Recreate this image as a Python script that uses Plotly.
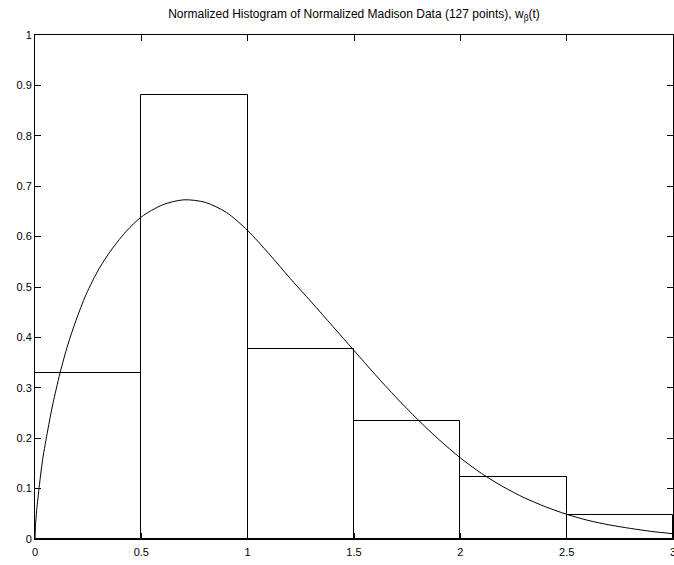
import plotly.graph_objects as go

# Histogram bins (edges) and normalized heights
bin_edges = [0, 0.5, 1.0, 1.5, 2.0, 2.5, 3.0]
bin_heights = [0.330, 0.880, 0.377, 0.235, 0.124, 0.047]

# Fitted density curve w_beta(t)
curve_t = [0, 0.002, 0.008, 0.021, 0.036, 0.06, 0.083, 0.1175, 0.154, 0.193, 0.24,
           0.302, 0.365, 0.43, 0.5, 0.6, 0.7, 0.8, 0.9, 1.0, 1.1, 1.2, 1.3, 1.4,
           1.5, 1.6, 1.7, 1.8, 1.9, 2.0, 2.1, 2.2, 2.3, 2.4, 2.5, 2.6, 2.7, 2.8,
           2.9, 3.0]
curve_w = [0, 0.024, 0.057, 0.108, 0.158, 0.216, 0.266, 0.329, 0.385, 0.434, 0.485,
           0.537, 0.577, 0.611, 0.639, 0.663, 0.673, 0.668, 0.648, 0.612, 0.566,
           0.517, 0.470, 0.422, 0.374, 0.326, 0.280, 0.237, 0.197, 0.161, 0.130,
           0.104, 0.082, 0.064, 0.049, 0.037, 0.028, 0.021, 0.015, 0.0105]

x_ticks = [0, 0.5, 1, 1.5, 2, 2.5, 3]
x_tick_labels = ["0", "0.5", "1", "1.5", "2", "2.5", "3"]
y_ticks = [0, 0.1, 0.2, 0.3, 0.4, 0.5, 0.6, 0.7, 0.8, 0.9, 1]
y_tick_labels = ["0", "0.1", "0.2", "0.3", "0.4", "0.5", "0.6", "0.7", "0.8", "0.9", "1"]

title_text = "Normalized Histogram of Normalized Madison Data (127 points), w<sub>β</sub>(t)"

centers = [(bin_edges[i] + bin_edges[i + 1]) / 2 for i in range(len(bin_heights))]
widths = [bin_edges[i + 1] - bin_edges[i] for i in range(len(bin_heights))]

fig = go.Figure()
fig.add_trace(go.Bar(
    x=centers, y=bin_heights, width=widths,
    marker=dict(color="white", line=dict(color="black", width=1)),
    showlegend=False, hoverinfo="skip",
))
fig.add_trace(go.Scatter(
    x=curve_t, y=curve_w, mode="lines",
    line=dict(color="black", width=1, shape="spline", smoothing=0.8),
    showlegend=False,
))

font_family = "Liberation Sans, Arial, sans-serif"
fig.update_layout(
    width=674, height=565,
    margin=dict(l=35, r=1, t=35, b=26, autoexpand=False),
    plot_bgcolor="white", paper_bgcolor="white",
    bargap=0,
    title=dict(text=title_text, x=(35 + 673) / 2 / 674, xanchor="center",
               y=1 - 14 / 565, yanchor="middle",
               font=dict(family=font_family, size=12, color="black")),
    font=dict(family=font_family, size=11, color="black"),
)
fig.update_xaxes(
    range=[0, 3], tickvals=x_ticks, ticktext=x_tick_labels,
    showline=True, linecolor="black", linewidth=1, mirror="ticks",
    ticks="inside", ticklen=6, tickcolor="black", showgrid=False, zeroline=False,
    ticklabeloverflow="allow", ticklabelstandoff=3, automargin=False,
    tickfont=dict(family=font_family, size=11, color="black"),
)
fig.update_yaxes(
    range=[0, 1], tickvals=y_ticks, ticktext=y_tick_labels,
    showline=True, linecolor="black", linewidth=1, mirror="ticks",
    ticks="inside", ticklen=6, tickcolor="black", showgrid=False, zeroline=False,
    automargin=False,
    tickfont=dict(family=font_family, size=11, color="black"),
)

fig.write_html("out.html")
